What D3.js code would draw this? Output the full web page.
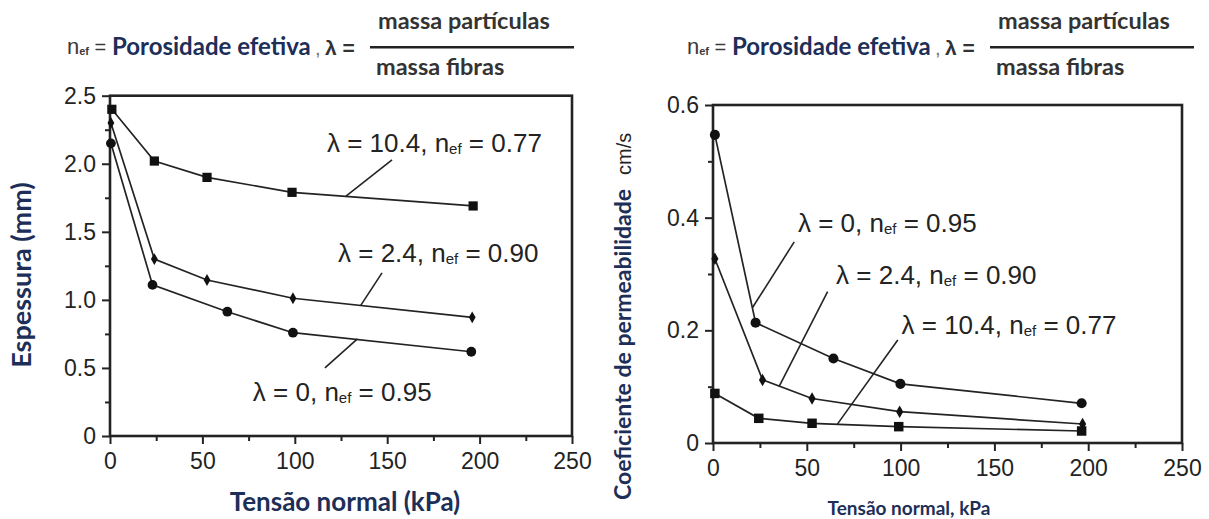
<!DOCTYPE html>
<html><head><meta charset="utf-8">
<script src="https://cdn.jsdelivr.net/npm/d3@7"></script>
<style>
body{margin:0;background:#fff}
svg{display:block}
text{white-space:pre}
</style>
</head><body>
<svg id="c" width="1209" height="519"></svg>
<script>
// ---------------- DATA ----------------
const xTickValues = [0, 50, 100, 150, 200, 250];
const xTickLabels = ["0", "50", "100", "150", "200", "250"];
const xMinorTicks = [25, 75, 125, 175, 225];

const leftYTickValues = [0, 0.5, 1.0, 1.5, 2.0, 2.5];
const leftYTickLabels = ["0", "0.5", "1.0", "1.5", "2.0", "2.5"];
const leftYMinorTicks = [0.25, 0.75, 1.25, 1.75, 2.25];

const rightYTickValues = [0, 0.2, 0.4, 0.6];
const rightYTickLabels = ["0", "0.2", "0.4", "0.6"];
const rightYMinorTicks = [0.1, 0.3, 0.5];

// Espessura (mm) vs Tensão normal (kPa)
const espL104x = [1, 24, 52.5, 98.5, 196.5];
const espL104y = [2.40, 2.02, 1.90, 1.79, 1.69];
const espL24x  = [0.5, 24, 52.5, 99, 196];
const espL24y  = [2.30, 1.30, 1.146, 1.012, 0.872];
const espL0x   = [0.5, 23, 63.5, 99, 195.5];
const espL0y   = [2.15, 1.11, 0.913, 0.759, 0.619];

// Coeficiente de permeabilidade (cm/s) vs Tensão normal (kPa)
const permL0x   = [1, 22.7, 64.2, 99.9, 196.5];
const permL0y   = [0.547, 0.2136, 0.150, 0.105, 0.0705];
const permL24x  = [1, 26.4, 52.8, 99.5, 197];
const permL24y  = [0.327, 0.112, 0.079, 0.0556, 0.0337];
const permL104x = [1, 24.4, 52.8, 99, 196.5];
const permL104y = [0.088, 0.0438, 0.035, 0.029, 0.0213];

// annotation texts: [lambda, n_ef]
const annLambda = ["10.4", "2.4", "0"];
const annNef    = ["0.77", "0.90", "0.95"];

// annotation anchors (data units): label left x, label centre y, leader from/to
const leftAnnLabelX = [117.4, 123.4, 77.3];
const leftAnnLabelY = [2.153, 1.345, 0.325];
const leftAnnFrom   = [[152.6, 2.028], [147.2, 1.198], [116.3, 0.50]];
const leftAnnTo     = [[127.7, 1.763], [135.6, 0.958], [133.9, 0.714]];

const rightAnnLabelX = [100.5, 65.6, 45.3];
const rightAnnLabelY = [0.2095, 0.298, 0.39];
const rightAnnFrom   = [[98.5, 0.1829], [61.1, 0.2686], [43.3, 0.357]];
const rightAnnTo     = [[66.3, 0.0335], [35.2, 0.0999], [21, 0.24]];

// ---------------- DRAW ----------------
const svg = d3.select("#c");
const INK = "#232323";
const NAVY = "#1d2f58";
const ARIAL = "'Liberation Sans', Arial, sans-serif";
const CAL = "Lato, 'Open Sans', sans-serif";

function zip(xs, ys) { return xs.map((v, i) => [v, ys[i]]); }

function panel(cfg) {
  const x = d3.scaleLinear().domain([0, 250]).range([cfg.left, cfg.right]);
  const y = d3.scaleLinear().domain(cfg.yDomain).range([cfg.bottom, cfg.top]);
  const g = svg.append("g");

  // minor ticks
  g.append("g").attr("transform", `translate(0,${cfg.bottom})`)
    .call(d3.axisBottom(x).tickValues(xMinorTicks).tickSize(5).tickSizeOuter(0).tickFormat(""))
    .call(a => a.select(".domain").remove())
    .call(a => a.selectAll("line").attr("stroke", INK).attr("stroke-width", 2));
  g.append("g").attr("transform", `translate(${cfg.left},0)`)
    .call(d3.axisLeft(y).tickValues(cfg.yMinor).tickSize(5).tickSizeOuter(0).tickFormat(""))
    .call(a => a.select(".domain").remove())
    .call(a => a.selectAll("line").attr("stroke", INK).attr("stroke-width", 2));

  // major ticks
  g.append("g").attr("transform", `translate(0,${cfg.bottom})`)
    .call(d3.axisBottom(x).tickValues(xTickValues).tickSize(8).tickSizeOuter(0).tickPadding(9)
      .tickFormat((d, i) => xTickLabels[i]))
    .call(a => a.select(".domain").remove())
    .call(a => a.selectAll("line").attr("stroke", INK).attr("stroke-width", 2))
    .call(a => a.selectAll("text").attr("font-family", ARIAL).attr("font-size", 23).attr("fill", INK));
  g.append("g").attr("transform", `translate(${cfg.left},0)`)
    .call(d3.axisLeft(y).tickValues(cfg.yTicks).tickSize(8).tickSizeOuter(0).tickPadding(6)
      .tickFormat((d, i) => cfg.yLabels[i]))
    .call(a => a.select(".domain").remove())
    .call(a => a.selectAll("line").attr("stroke", INK).attr("stroke-width", 2))
    .call(a => a.selectAll("text").attr("font-family", ARIAL).attr("font-size", 23).attr("fill", INK));

  // box
  g.append("rect").attr("x", cfg.left).attr("y", cfg.top)
    .attr("width", cfg.right - cfg.left).attr("height", cfg.bottom - cfg.top)
    .attr("fill", "none").attr("stroke", INK).attr("stroke-width", 2.6);

  // series
  const line = d3.line().x(d => x(d[0])).y(d => y(d[1]));
  cfg.series.forEach(s => {
    const pts = zip(s.x, s.y);
    g.append("path").attr("d", line(pts)).attr("fill", "none")
      .attr("stroke", INK).attr("stroke-width", 1.7);
    g.selectAll(null).data(pts).enter().append("path")
      .attr("transform", d => `translate(${x(d[0])},${y(d[1])})`)
      .attr("d", d3.symbol().type(s.sym).size(s.size)())
      .attr("fill", "#111");
  });

  // annotations
  cfg.ann.forEach(a => {
    g.append("line")
      .attr("x1", x(a.from[0])).attr("y1", y(a.from[1]))
      .attr("x2", x(a.to[0])).attr("y2", y(a.to[1]))
      .attr("stroke", INK).attr("stroke-width", 1.6);
    const t = g.append("text").attr("x", x(a.lx)).attr("y", y(a.ly) + 9)
      .attr("font-family", ARIAL).attr("font-size", 26).attr("fill", INK);
    t.append("tspan").text(`λ = ${a.lam}, n`);
    t.append("tspan").attr("font-size", 15).attr("dy", 2).text("ef");
    t.append("tspan").attr("dy", -2).text(` = ${a.nef}`);
  });
  return { x, y };
}

const symMap = { sq: d3.symbolSquare, di: d3.symbolDiamond, ci: d3.symbolCircle };

panel({
  left: 110, right: 572, top: 95.7, bottom: 436,
  yDomain: [0, 2.5], yTicks: leftYTickValues, yLabels: leftYTickLabels, yMinor: leftYMinorTicks,
  series: [
    { x: espL104x, y: espL104y, sym: symMap.sq, size: 85 },
    { x: espL24x, y: espL24y, sym: symMap.di, size: 40 },
    { x: espL0x, y: espL0y, sym: symMap.ci, size: 75 }
  ],
  ann: annLambda.map((l, i) => ({ lam: l, nef: annNef[i], lx: leftAnnLabelX[i], ly: leftAnnLabelY[i], from: leftAnnFrom[i], to: leftAnnTo[i] }))
});

panel({
  left: 713, right: 1182, top: 105, bottom: 443,
  yDomain: [0, 0.6], yTicks: rightYTickValues, yLabels: rightYTickLabels, yMinor: rightYMinorTicks,
  series: [
    { x: permL0x, y: permL0y, sym: symMap.ci, size: 80 },
    { x: permL24x, y: permL24y, sym: symMap.di, size: 45 },
    { x: permL104x, y: permL104y, sym: symMap.sq, size: 90 }
  ],
  ann: annLambda.map((l, i) => ({ lam: l, nef: annNef[i], lx: rightAnnLabelX[i], ly: rightAnnLabelY[i], from: rightAnnFrom[i], to: rightAnnTo[i] }))
});

// axis titles
svg.append("text").attr("transform", "translate(31,275) rotate(-90)")
  .attr("text-anchor", "middle").attr("font-family", CAL).attr("font-weight", 700)
  .attr("font-size", 27).attr("fill", NAVY).text("Espessura (mm)");
svg.append("text").attr("x", 345).attr("y", 511).attr("text-anchor", "middle")
  .attr("font-family", CAL).attr("font-weight", 700).attr("font-size", 26).attr("fill", NAVY)
  .text("Tensão normal (kPa)");

const rt = svg.append("text").attr("transform", "translate(631,500) rotate(-90)")
  .attr("text-anchor", "start");
rt.append("tspan").attr("font-family", CAL).attr("font-weight", 700).attr("font-size", 23)
  .attr("fill", NAVY).text("Coeficiente de permeabilidade");
rt.append("tspan").attr("dx", 14).attr("font-family", ARIAL).attr("font-size", 20)
  .attr("fill", INK).text("cm/s");

svg.append("text").attr("x", 909).attr("y", 515).attr("text-anchor", "middle")
  .attr("font-family", CAL).attr("font-weight", 700).attr("font-size", 19).attr("fill", NAVY)
  .text("Tensão normal, kPa");

// headers
function header(dx) {
  const g = svg.append("g").attr("transform", `translate(${dx},0)`);
  const n = g.append("text").attr("x", 67).attr("y", 54).attr("font-family", ARIAL)
    .attr("font-size", 22).attr("fill", "#3a3a3a");
  n.append("tspan").text("n");
  n.append("tspan").attr("font-size", 11).attr("dy", 1).attr("font-weight", 700).text("ef");
  n.append("tspan").attr("dy", -1).attr("font-size", 20).text(" =");
  g.append("text").attr("x", 112).attr("y", 55).attr("font-family", CAL).attr("font-weight", 700)
    .attr("font-size", 24).attr("fill", NAVY).text("Porosidade efetiva");
  g.append("text").attr("x", 315).attr("y", 55).attr("font-family", ARIAL)
    .attr("font-size", 20).attr("fill", "#777").text(",");
  g.append("text").attr("x", 325).attr("y", 55).attr("font-family", ARIAL).attr("font-weight", 700)
    .attr("font-size", 21).attr("fill", "#333").text("λ =");
  g.append("line").attr("x1", 370).attr("x2", 574).attr("y1", 47.3).attr("y2", 47.3)
    .attr("stroke", "#222").attr("stroke-width", 2.6);
  g.append("text").attr("x", 378).attr("y", 29).attr("font-family", CAL).attr("font-weight", 700)
    .attr("font-size", 23.5).attr("fill", "#333").text("massa partículas");
  g.append("text").attr("x", 376).attr("y", 75).attr("font-family", CAL).attr("font-weight", 700)
    .attr("font-size", 23.5).attr("fill", "#333").text("massa fibras");
}
header(0);
header(620);
</script>
</body></html>
